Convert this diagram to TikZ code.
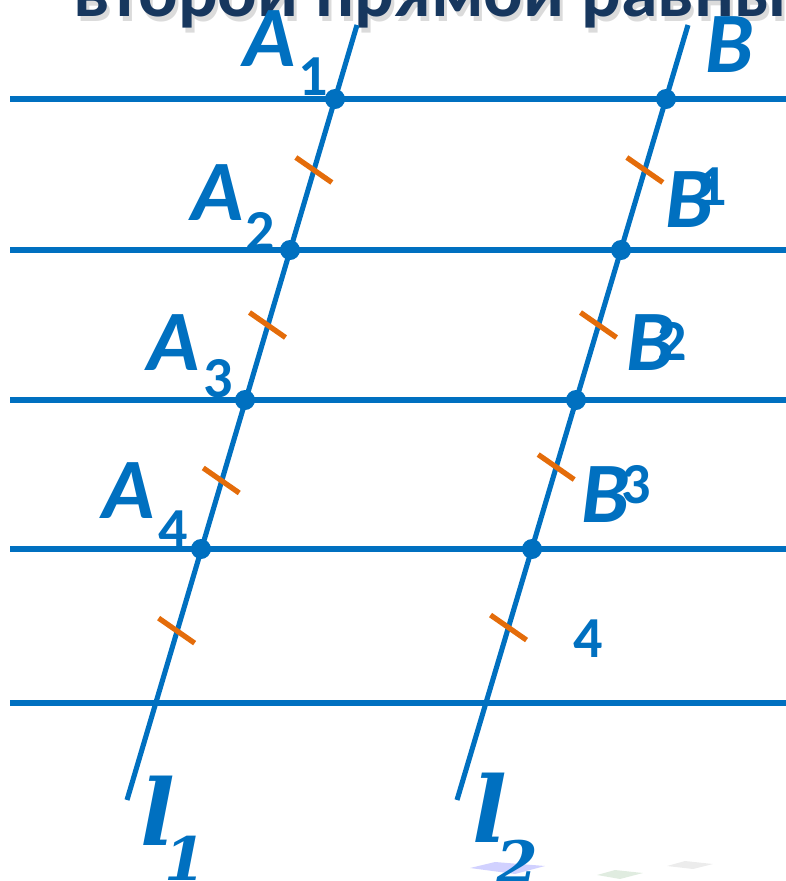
\documentclass[tikz,border=0pt]{standalone}
\usepackage{fontspec}
\setmainfont{Carlito}
\newfontfamily\serifit{DejaVu Serif}
\usetikzlibrary{calc}
\definecolor{lineblue}{HTML}{0070C0}
\definecolor{tickorange}{HTML}{E46C0A}
\definecolor{titlenavy}{HTML}{17375E}

\begin{document}
\begin{tikzpicture}[x=0.01cm, y=-0.01cm,
    line/.style={lineblue, line width=1.45pt},
    dot/.style={circle, fill=lineblue, inner sep=0pt, minimum size=0.2cm},
    tick/.style={tickorange, line width=1.5pt},
    pt/.style={lineblue, font=\fontsize{24.5}{24.5}\selectfont\bfseries\itshape, inner sep=0pt, anchor=base},
    idx/.style={lineblue, font=\fontsize{16.5}{16.5}\selectfont\bfseries, inner sep=0pt, anchor=base},
    lname/.style={lineblue, font=\serifit\fontsize{26}{26}\selectfont\bfseries\itshape, inner sep=0pt, anchor=base},
    lidx/.style={lineblue, font=\serifit\fontsize{17}{17}\selectfont\bfseries\itshape, inner sep=0pt, anchor=base}]
    \useasboundingbox (0,0) rectangle (786,881);
    % Заголовок (обрезан сверху) с тенью
    \node[text=black!40, opacity=0.35, font=\fontsize{21}{21}\selectfont\bfseries, inner sep=0pt, anchor=base west] at (76,21) {второй прямой равные};
    \node[titlenavy, font=\fontsize{21}{21}\selectfont\bfseries, inner sep=0pt, anchor=base west] (title) at (73,16) {второй прямой равные};
    % Бледные пятна фона внизу
    \fill[blue!30!white, opacity=0.6] (470,868) -- (495,862) -- (545,866) -- (515,874) -- cycle;
    \fill[green!40!black!20, opacity=0.6] (597,875) -- (615,870) -- (643,873) -- (620,879) -- cycle;
    \fill[black!12, opacity=0.6] (667,866) -- (685,861) -- (713,864) -- (693,869) -- cycle;
    % Параллельные прямые
    \foreach \i/\y in {1/99,2/250,3/400,4/549,5/703} {
        \coordinate (w\i) at (10,\y);
        \coordinate (e\i) at (786,\y);
        \draw[line] (w\i) -- (e\i);
    }
    % Секущие l1 и l2
    \coordinate (l1top) at (357,25);
    \coordinate (l1bot) at (127,800);
    \coordinate (l2top) at (688,25);
    \coordinate (l2bot) at (457,800);
    \draw[line] (l1top) -- (l1bot);
    \draw[line] (l2top) -- (l2bot);
    % Точки пересечения
    \foreach \i/\xa/\xb/\y in {1/335/666/99, 2/290/621/250, 3/245/576/400, 4/201/532/549} {
        \node[dot] (A\i) at (\xa,\y) {};
        \node[dot] (B\i) at (\xb,\y) {};
    }
    \coordinate (A5) at (155,703);
    \coordinate (B5) at (486,703);
    % Штрихи равных отрезков
    \foreach \a/\b/\f in {A1/A2/0.47, A2/A3/0.5, A3/A4/0.54, A4/A5/0.53, B1/B2/0.47, B2/B3/0.5, B3/B4/0.45, B4/B5/0.51}
        \draw[tick] ($(\a)!\f!(\b)$) ++(-18,-12.5) -- ++(36,25);
    % Подписи точек A
    \node[pt] (labA1) at (270,66) {A};
    \node[idx] (subA1) at (313,95) {1};
    \node[pt] (labA2) at (218,220) {A};
    \node[idx] (subA2) at (260,250) {2};
    \node[pt] (labA3) at (174,370) {A};
    \node[idx] (subA3) at (218,397) {3};
    \node[pt] (labA4) at (129,518) {A};
    \node[idx] (subA4) at (173,548) {4};
    % Подписи точек B (индексы сдвинуты)
    \node[pt] (labB1) at (730,72) {B};
    \node[idx] (subB1) at (712,205) {1};
    \node[pt] (labB2) at (690,227) {B};
    \node[idx] (subB2) at (672,360) {2};
    \node[pt] (labB3) at (651,370) {B};
    \node[idx] (subB3) at (636,503) {3};
    \node[pt] (labB4) at (606,522) {B};
    \node[idx] (subB4) at (588,657) {4};
    % Названия прямых
    \node[lname] (labl1) at (158,845) {l};
    \node[lidx] (subl1) at (185,880) {1};
    \node[lname] (labl2) at (490,842) {l};
    \node[lidx] (subl2) at (517,884) {2};
\end{tikzpicture}
\end{document}
